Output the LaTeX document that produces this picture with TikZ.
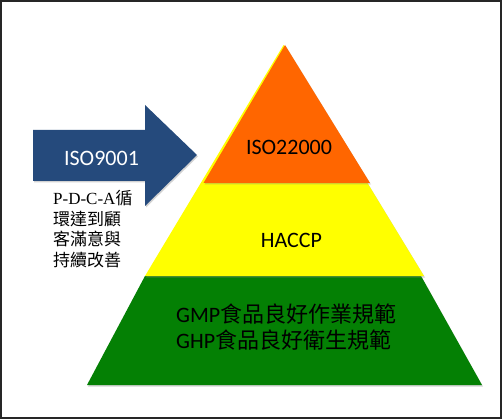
\documentclass[tikz,border=0pt]{standalone}
\usepackage{fontspec}
\setmainfont{Liberation Serif}
\newfontfamily\calib{Carlito}
\newfontfamily\cjk{Noto Sans CJK TC}
\usetikzlibrary{shadows}
\definecolor{arrowblue}{RGB}{37,74,124}
\definecolor{toporange}{RGB}{255,102,0}
\definecolor{midyellow}{RGB}{255,255,0}
\definecolor{basegreen}{RGB}{4,128,4}
\tikzset{
  layer/.style={draw=none, drop shadow={opacity=0.35, shadow xshift=1pt, shadow yshift=-1.5pt}},
  label/.style={inner sep=0pt, font=\calib\fontsize{22}{26}\selectfont}
}
\begin{document}
\begin{tikzpicture}[x=1pt, y=-1pt]
	\useasboundingbox (0,0) rectangle (502,419);
	\draw [draw=none, fill=white] (0,0) rectangle (502,419);
	\draw [line width=1.6pt, draw=black!85] (0.8,0.8) rectangle (501.2,418.2);

	% the three levels, bottom one first
	\draw [layer, fill=basegreen] (145,276) -- (421,276) -- (482,385) -- (87,385) -- cycle;
	\draw [layer, fill=midyellow] (283.5,45) -- (424,276) -- (145,276) -- cycle;
	\draw [layer, fill=toporange] (285,45) -- (370,183) -- (203.5,183) -- cycle;

	% arrow pointing into the top
	\draw [layer, fill=arrowblue] (33,130) -- (145,130) -- (145,105) -- (197,155)
		-- (145,206) -- (145,181) -- (33,181) -- cycle;

	\node [label, text=white] (iso9001) at (101.5,158) {ISO9001};
	\node [label] (iso22000) at (289,147) {ISO22000};
	\node [label] (haccp) at (291.5,240) {HACCP};
	\node [label, anchor=west, align=left] (gmp) at (176,327.5)
		{GMP{\cjk 食品良好作業規範}\\GHP{\cjk 食品良好衛生規範}};

	% text under the arrow
	\node [inner sep=0pt, anchor=north west, align=left,
		font=\fontsize{17}{20.7}\selectfont] (pdca) at (53,190)
		{P-D-C-A{\cjk 循}\\{\cjk 環達到顧}\\{\cjk 客滿意與}\\{\cjk 持續改善}};
\end{tikzpicture}
\end{document}
